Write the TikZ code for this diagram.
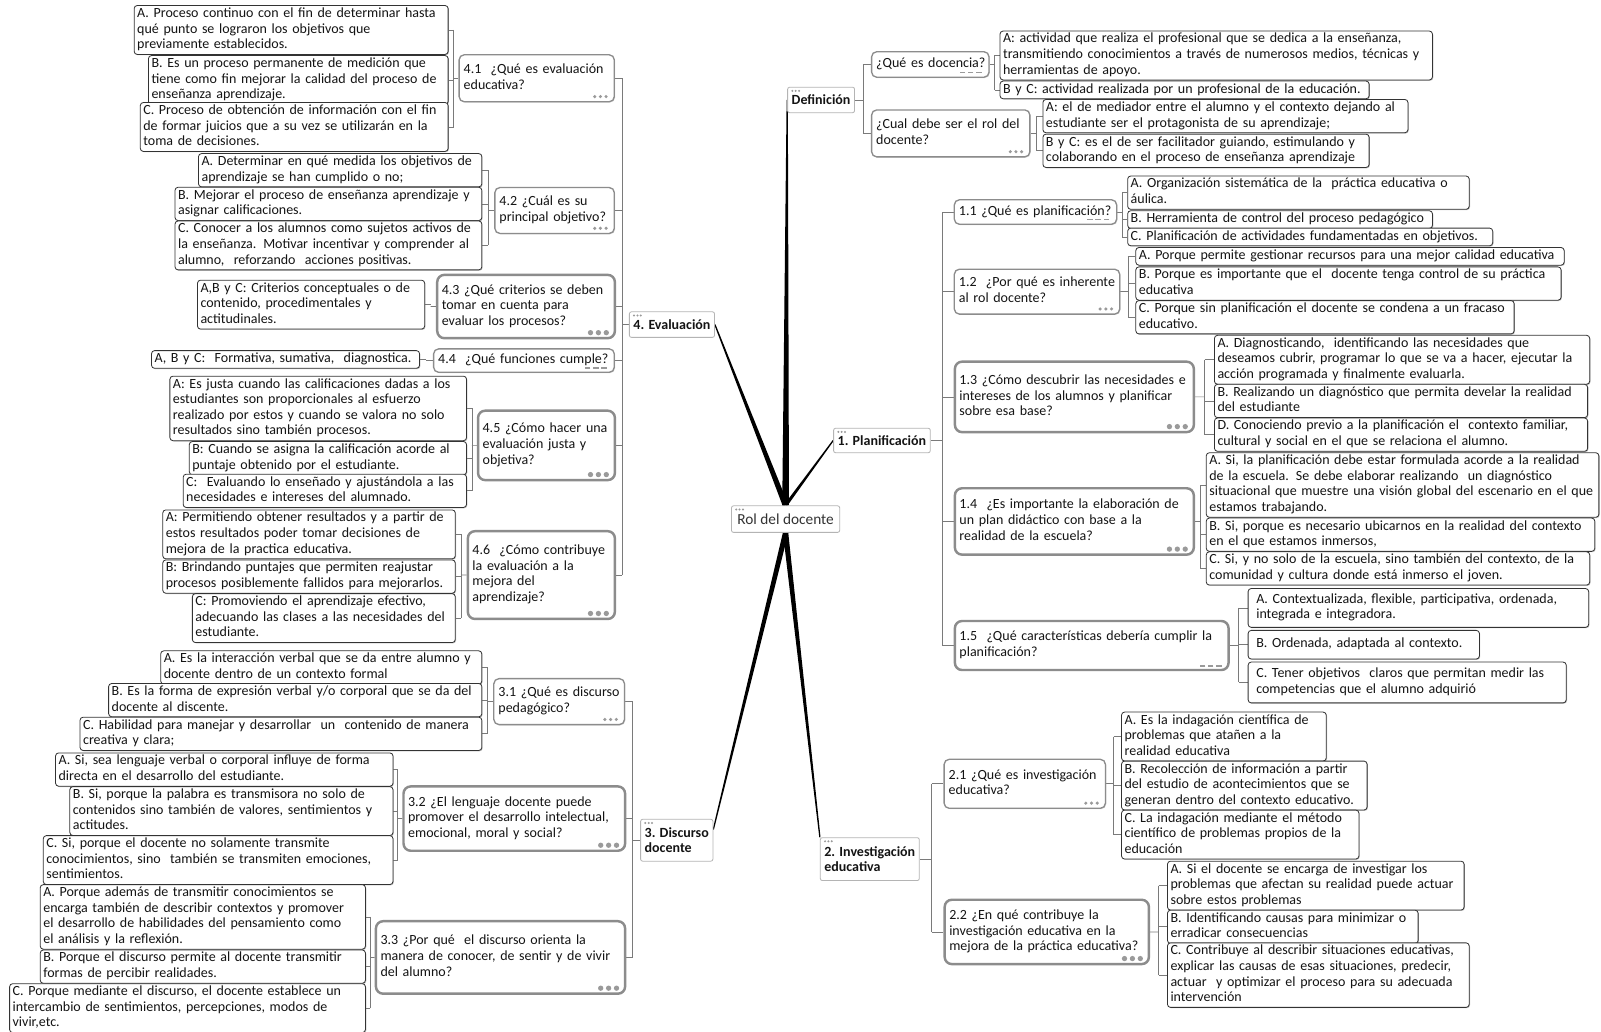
\documentclass[tikz,border=0pt]{standalone}
\usepackage{fontspec}
\setmainfont{Carlito}
\usetikzlibrary{calc,shadows}
\definecolor{txt}{HTML}{141414}
\definecolor{ansb}{HTML}{333333}
\definecolor{qb}{HTML}{8C8C8C}
\definecolor{tb}{HTML}{B4B4B4}
\definecolor{brc}{HTML}{7A7A7A}
\definecolor{dotc}{HTML}{9A9A9A}
\pgfdeclarelayer{bg}
\pgfsetlayers{bg,main}
\newcommand\fs{\fontsize{13.7}{15.3}\selectfont}
\tikzset{
  base/.style={anchor=north west, align=left, font=\fs, text=txt},
  ansbox/.style={base, draw=ansb, line width=0.8pt, rounded corners=3pt, fill=white,
    inner xsep=3pt, inner ysep=1pt,
    drop shadow={shadow xshift=0.8pt, shadow yshift=-0.8pt, fill=black!50, opacity=0.5}},
  qthin/.style={base, draw=qb, line width=1.3pt, rounded corners=5pt, fill=white,
    inner xsep=4.5pt, inner ysep=3pt,
    drop shadow={shadow xshift=0.8pt, shadow yshift=-0.8pt, fill=black!30, opacity=0.5}},
  qthick/.style={qthin, line width=2.4pt, rounded corners=7pt},
  topic/.style={base, draw=tb, line width=0.8pt, rounded corners=2pt, fill=white,
    inner xsep=4pt, inner ysep=3pt, font=\fs\bfseries},
  rootst/.style={base, draw=tb, line width=0.8pt, rounded corners=2pt, fill=white,
    inner xsep=5pt, text=black!80, font=\fontsize{15}{16}\selectfont},
  br/.style={draw=brc, line width=0.7pt},
}
\newcommand\ans[6][]{\pgfmathsetmacro\tw{#5-#3-7.5}%
  \node[ansbox,#1,text width=\tw pt] (#2) at (#3,#4) {\begin{tabular}{@{}l@{}}#6\end{tabular}};}
\newcommand\qq[7]{\pgfmathsetmacro\tw{#5-#3-11}\pgfmathsetmacro\mh{#6-#4}%
  \node[#2,text width=\tw pt,minimum height=\mh pt] (#1) at (#3,#4) {\begin{tabular}{@{}l@{}}#7\end{tabular}};}
\newcommand\qdots[2]{\foreach \k in {0,1,2}{\fill[dotc] ($(#1.south east)+({-7-#2-\k*(2.4*#2+1.5)},{-4-#2})$) circle (#2pt);}}
\newcommand\qdash[2]{\foreach \k in {0,1,2}{\draw[dotc,line width=#2pt] ($(#1.south east)+({-8-\k*8},-5)$) -- ++(-5.5,0);}}
\newcommand\tdots[1]{\foreach \k in {0,1,2}{\fill[dotc] ($(#1.north west)+({5+\k*3.3},4)$) circle (1.1pt);}}
\newcommand\brR[4]{\draw[br] (#1.east) -- ($(#1.east)!0.5!(#2.west |- #1.east)$) coordinate (bk);
  \draw[br] (bk |- #2.west) -- (bk |- #3.west);
  \foreach \cc in {#4}{\draw[br] (bk |- \cc.west) -- (\cc.west);}}
\newcommand\brL[4]{\draw[br] (#1.west) -- ($(#1.west)!0.5!(#2.east |- #1.west)$) coordinate (bk);
  \draw[br] (bk |- #2.east) -- (bk |- #3.east);
  \foreach \cc in {#4}{\draw[br] (bk |- \cc.east) -- (\cc.east);}}
\newcommand\wdg[3]{\fill[black] ($(#1)!#3!90:(#2)$) -- ($(#2)!0.6pt!-90:(#1)$) -- ($(#2)!0.6pt!90:(#1)$) -- ($(#1)!#3!-90:(#2)$) -- cycle;}
\begin{document}
\begin{tikzpicture}[x=1pt,y=-1pt]
\useasboundingbox (0,0) rectangle (1568,1010);
\begin{pgfonlayer}{bg}
\fill[white] (0,0) rectangle (1568,1010);
\end{pgfonlayer}

% ---------- root and topics ----------
\node[rootst,minimum width=106pt,minimum height=26pt] (root) at (716,495) {Rol del docente};
\node[topic,minimum height=25pt] (def) at (771,85) {Definición};
\node[topic,minimum height=24pt] (pl) at (816,419) {1. Planificación};
\node[topic,minimum height=42pt] (inv) at (803,820) {2. Investigación\\educativa};
\node[topic,minimum height=41pt] (di) at (627,802) {3. Discurso\\docente};
\node[topic,minimum height=25pt] (ev) at (616,305) {4. Evaluación};
\foreach \t in {root,def,pl,inv,di,ev}{\tdots{\t}}

% ---------- 4. Evaluacion ----------
\ans{a41a}{131}{5}{440}{A. Proceso continuo con el fin de determinar hasta\\qué punto se lograron los objetivos que\\previamente establecidos.}
\ans{a41b}{145}{54}{440}{B. Es un proceso permanente de medición que\\tiene como fin mejorar la calidad del proceso de\\enseñanza aprendizaje.}
\ans{a41c}{137}{100}{440}{C. Proceso de obtención de información con el fin\\de formar juicios que a su vez se utilizarán en la\\toma  de decisiones.}
\qq{q41}{qthin}{449}{53}{603}{99}{4.1 \ ¿Qué es evaluación\\educativa?}
\ans{a42a}{194}{150}{473}{A. Determinar en qué medida los objetivos de\\aprendizaje se han cumplido o no;}
\ans{a42b}{171}{183}{473}{B. Mejorar el proceso de enseñanza aprendizaje y\\asignar calificaciones.}
\ans{a42c}{171}{216}{473}{C. Conocer a los alumnos como sujetos activos de\\la enseñanza. Motivar incentivar y comprender al\\alumno, \ reforzando \ acciones positivas.}
\qq{q42}{qthin}{484}{183}{603}{228}{4.2 ¿Cuál es su\\principal objetivo?}
\ans{a43}{193}{274}{417}{A,B y C: Criterios conceptuales o de\\contenido, procedimentales y\\actitudinales.}
\qq{q43}{qthick}{427}{268}{603}{330}{4.3 ¿Qué criterios se deben\\tomar en cuenta para\\evaluar los procesos?}
\ans{a44}{148}{343}{412}{A, B y C: \ Formativa, sumativa, \ diagnostica.}
\qq{q44}{qthin}{424}{341}{603}{364}{4.4 \ ¿Qué funciones cumple?}
\ans{a45a}{166}{368}{458}{A: Es justa cuando las calificaciones dadas a los\\estudiantes son proporcionales al esfuerzo\\realizado por estos y cuando se valora no solo\\resultados sino también procesos.}
\ans{a45b}{185}{432}{458}{B: Cuando se asigna la calificación acorde al\\puntaje obtenido por el estudiante.}
\ans{a45c}{179}{464}{458}{C: \ Evaluando lo enseñado y ajustándola a las\\necesidades e intereses del alumnado.}
\qq{q45}{qthick}{467}{401}{603}{469}{4.5 ¿Cómo hacer una\\evaluación justa y\\objetiva?}
\ans{a46a}{159}{499}{447}{A: Permitiendo obtener resultados y a partir de\\estos resultados poder tomar decisiones de\\mejora de la practica educativa.}
\ans{a46b}{159}{548}{447}{B: Brindando puntajes que permiten reajustar\\procesos posiblemente fallidos para mejorarlos.}
\ans{a46c}{188}{581}{447}{C: Promoviendo el aprendizaje efectivo,\\adecuando las clases a las necesidades del\\estudiante.}
\qq{q46}{qthick}{457}{519}{603}{605}{4.6 \ ¿Cómo contribuye\\la evaluación a la\\mejora del\\aprendizaje?}

% ---------- 3. Discurso ----------
\ans{a31a}{157}{637}{473}{A. Es la interacción verbal que se da entre alumno y\\docente dentro de un contexto formal}
\ans{a31b}{106}{669}{473}{B. Es la forma de expresión verbal y/o corporal que se da del\\docente al discente.}
\ans{a31c}{78}{702}{473}{C. Habilidad para manejar y desarrollar \ un \ contenido de manera\\creativa y clara;}
\qq{q31}{qthin}{483}{664}{613}{709}{3.1 ¿Qué es discurso\\pedagógico?}
\ans{a32a}{54}{737}{386}{A. Si, sea lenguaje verbal o corporal influye de forma\\directa en el desarrollo del estudiante.}
\ans{a32b}{68}{770}{386}{B. Si, porque la palabra es transmisora no solo de\\contenidos sino también de valores, sentimientos y\\actitudes.}
\ans{a32c}{42}{818}{386}{C. Si, porque el docente no solamente transmite\\conocimientos, sino \ también se transmiten emociones,\\sentimientos.}
\qq{q32}{qthick}{394}{769}{613}{832}{3.2 ¿El lenguaje docente puede\\promover el desarrollo intelectual,\\emocional, moral y social?}
\ans{a33a}{39}{866}{359}{A. Porque además de transmitir conocimientos se\\encarga también de describir contextos y promover\\el desarrollo de habilidades del pensamiento como\\el análisis y la reflexión.}
\ans{a33b}{39}{930}{359}{B. Porque el discurso permite al docente transmitir\\formas de percibir realidades.}
\ans{a33c}{9}{963}{359}{C. Porque mediante el discurso, el docente establece un\\intercambio de sentimientos, percepciones, modos de\\vivir,etc.}
\qq{q33}{qthick}{367}{901}{613}{972}{3.3 ¿Por qué \ el discurso orienta la\\manera de conocer, de sentir y de vivir\\del alumno?}

% ---------- Definicion ----------
\qq{qd1}{qthin}{853}{50}{970}{75}{¿Qué es docencia?}
\ans{ad1a}{979}{30}{1404}{A: actividad que realiza el profesional que se dedica a la enseñanza,\\transmitiendo conocimientos a través de numerosos medios, técnicas y\\herramientas de apoyo.}
\ans{ad1b}{979}{79}{1342}{B y C: actividad realizada por un profesional de la educación.}
\qq{qd2}{qthin}{853}{107}{1010}{153}{¿Cual debe ser el rol del\\docente?}
\ans{ad2a}{1021}{97}{1380}{A: el de mediador entre el alumno y el contexto dejando al\\estudiante ser el protagonista de su aprendizaje;}
\ans{ad2b}{1021}{131}{1342}{B y C: es el de ser facilitador guiando, estimulando y\\colaborando en el proceso de enseñanza aprendizaje}

% ---------- 1. Planificacion ----------
\qq{q11}{qthin}{934}{195}{1095}{219}{1.1 ¿Qué es planificación?}
\ans{a11a}{1104}{172}{1440}{A. Organización sistemática de la \ práctica educativa o\\áulica.}
\ans{a11b}{1104}{206}{1404}{B. Herramienta de control del proceso pedagógico}
\ans{a11c}{1104}{223}{1463}{C. Planificación de actividades fundamentadas en objetivos.}
\qq{q12}{qthin}{934}{263}{1098}{307}{1.2 \ ¿Por qué es inherente\\al rol docente?}
\ans{a12a}{1112}{242}{1533}{A. Porque permite gestionar recursos para una mejor calidad educativa}
\ans{a12b}{1112}{261}{1530}{B. Porque es importante que el \ docente tenga control de su práctica\\educativa}
\ans{a12c}{1112}{294}{1484}{C. Porque sin planificación el docente se condena a un fracaso\\educativo.}
\qq{q13}{qthick}{934}{353}{1170}{422}{1.3 ¿Cómo descubrir las necesidades e\\intereses de los alumnos y planificar\\sobre esa base?}
\ans{a13a}{1189}{328}{1558}{A. Diagnosticando, \ identificando las necesidades que\\deseamos cubrir, programar lo que se va a hacer, ejecutar la\\acción programada y finalmente evaluarla.}
\ans{a13b}{1189}{376}{1556}{B. Realizando un diagnóstico que permita develar la realidad\\del estudiante}
\ans{a13d}{1189}{409}{1556}{D. Conociendo previo a la planificación el \ contexto familiar,\\cultural y social en el que se relaciona el alumno.}
\qq{q14}{qthick}{934}{477}{1170}{542}{1.4 \ ¿Es importante la elaboración de\\un plan didáctico con base a la\\realidad de la escuela?}
\ans{a14a}{1181}{443}{1567}{A. Si, la planificación debe estar formulada acorde a la realidad\\de la escuela. Se debe elaborar realizando \ un diagnóstico\\situacional que muestre una visión global del escenario en el que\\estamos trabajando.}
\ans{a14b}{1181}{507}{1563}{B. Si, porque es necesario ubicarnos en la realidad del contexto\\en el que estamos inmersos,}
\ans{a14c}{1181}{540}{1558}{C. Si, y no solo de la escuela, sino también del contexto, de la\\comunidad y cultura donde está inmerso el joven.}
\qq{q15}{qthick}{934}{607}{1204}{655}{1.5 \ ¿Qué características debería cumplir la\\planificación?}
\ans[minimum height=38pt,inner xsep=8pt]{a15a}{1222}{576}{1547}{A. Contextualizada, flexible, participativa, ordenada,\\integrada e integradora.}
\ans[minimum height=28pt,inner xsep=8pt]{a15b}{1222}{617}{1440}{B. Ordenada, adaptada al contexto.}
\ans[minimum height=40pt,inner xsep=8pt]{a15c}{1222}{648}{1525}{C. Tener objetivos \ claros que permitan medir las\\competencias que el alumno adquirió}

% ---------- 2. Investigacion ----------
\qq{q21}{qthin}{924}{743}{1084}{791}{2.1 ¿Qué es investigación\\educativa?}
\ans{a21a}{1098}{697}{1300}{A. Es la indagación científica de\\problemas que atañen a la\\realidad educativa}
\ans{a21b}{1098}{745}{1340}{B. Recolección de información a partir\\del estudio de acontecimientos que se\\generan dentro del contexto educativo.}
\ans{a21c}{1098}{793}{1332}{C. La indagación mediante el método\\científico de problemas propios de la\\educación}
\qq{q22}{qthick}{924}{880}{1126}{943}{2.2 ¿En qué contribuye la\\investigación educativa en la\\mejora de la práctica educativa?}
\ans{a22a}{1143}{843}{1435}{A. Si el docente se encarga de investigar los\\problemas que afectan su realidad puede actuar\\sobre estos problemas}
\ans{a22b}{1143}{891}{1390}{B. Identificando causas para minimizar o\\erradicar consecuencias}
\ans{a22c}{1143}{923}{1440}{C. Contribuye al describir situaciones educativas,\\explicar las causas de esas situaciones, predecir,\\actuar \ y optimizar el proceso para su adecuada\\intervención}

% ---------- markers ----------
\foreach \n in {q41,q42,qd2,q12,q21,q31}{\qdots{\n}{1.7}}
\foreach \n in {q43,q45,q46,q32,q33,q13,q14,q22}{\qdots{\n}{2.6}}
\foreach \n in {q44,q11,qd1}{\qdash{\n}{1.2}}
\qdash{q15}{2.4}

% ---------- connectors ----------
\begin{pgfonlayer}{bg}
\coordinate (diend) at ($(di.north east)!0.25!(di.south east)$);
\wdg{root.north}{def.west}{3.3pt}
\wdg{root.north}{ev.east}{2.8pt}
\wdg{root.north}{pl.west}{1.6pt}
\wdg{root.south}{diend}{2.6pt}
\wdg{root.south}{inv.north west}{2.6pt}

\brL{ev}{q41}{q46}{q41,q42,q43,q44,q45,q46}
\brL{q41}{a41a}{a41c}{a41a,a41b,a41c}
\brL{q42}{a42a}{a42c}{a42a,a42b,a42c}
\brL{q43}{a43}{a43}{a43}
\brL{q44}{a44}{a44}{a44}
\brL{q45}{a45a}{a45c}{a45a,a45b,a45c}
\brL{q46}{a46a}{a46c}{a46a,a46b,a46c}
\brL{di}{q31}{q33}{q31,q32,q33}
\brL{q31}{a31a}{a31c}{a31a,a31b,a31c}
\brL{q32}{a32a}{a32c}{a32a,a32b,a32c}
\brL{q33}{a33a}{a33c}{a33a,a33b,a33c}

\brR{def}{qd1}{qd2}{qd1,qd2}
\brR{qd1}{ad1a}{ad1b}{ad1a,ad1b}
\brR{qd2}{ad2a}{ad2b}{ad2a,ad2b}
\brR{pl}{q11}{q15}{q11,q12,q13,q14,q15}
\brR{q11}{a11a}{a11c}{a11a,a11b,a11c}
\brR{q12}{a12a}{a12c}{a12a,a12b,a12c}
\brR{q13}{a13a}{a13d}{a13a,a13b,a13d}
\brR{q14}{a14a}{a14c}{a14a,a14b,a14c}
\brR{q15}{a15a}{a15c}{a15a,a15b,a15c}
\brR{inv}{q21}{q22}{q21,q22}
\brR{q21}{a21a}{a21c}{a21a,a21b,a21c}
\brR{q22}{a22a}{a22c}{a22a,a22b,a22c}
\end{pgfonlayer}
\end{tikzpicture}
\end{document}
